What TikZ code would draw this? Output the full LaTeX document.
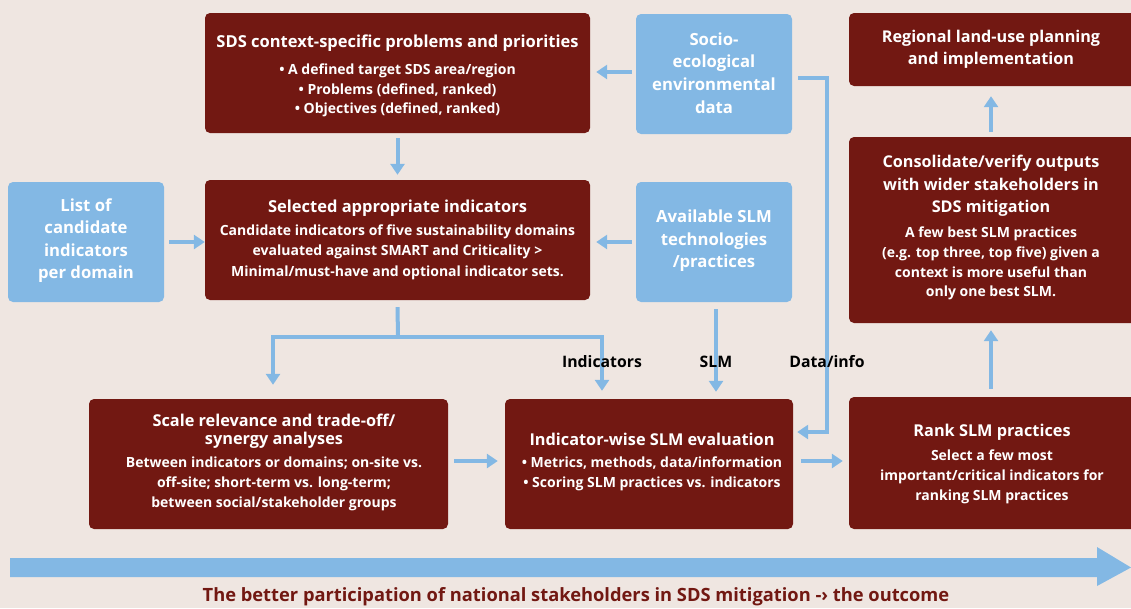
\documentclass[tikz,border=0pt]{standalone}
\usepackage{fontspec}
\setmainfont{Open Sans}
\usetikzlibrary{arrows.meta,calc}
\definecolor{bg}{HTML}{EFE6E1}
\definecolor{dred}{HTML}{721812}
\definecolor{lblue}{HTML}{83B8E4}
\newcommand{\fs}[2]{\bfseries\fontsize{#1}{#2}\selectfont}
\begin{document}
\begin{tikzpicture}[x=1pt,y=-1pt,
  redbox/.style={fill=dred, rounded corners=5pt, inner sep=0pt},
  bluebox/.style={fill=lblue, rounded corners=5pt, inner sep=0pt},
  wtxt/.style={text=white, align=center, inner sep=0pt},
  ktxt/.style={text=black, align=center, inner sep=0pt},
  arr/.style={draw=lblue, line width=4pt, -{Triangle[length=11pt,width=14pt]}},
  pipe/.style={draw=lblue, line width=4pt}]
% canvas
\fill[bg] (0,0) rectangle (1131,608);
\useasboundingbox (0,0) rectangle (1131,608);

% ---- boxes ----
\node[redbox, minimum width=385pt, minimum height=120pt] (sds) at (397.5,73) {};
\node[bluebox, minimum width=156pt, minimum height=120pt] (socio) at (714,74) {};
\node[redbox, minimum width=385pt, minimum height=120pt] (sel) at (397.5,240) {};
\node[bluebox, minimum width=156pt, minimum height=120pt] (avail) at (714,242) {};
\node[bluebox, minimum width=156pt, minimum height=120pt] (list) at (86,242) {};
\node[redbox, minimum width=359pt, minimum height=130pt] (scale) at (268.5,464) {};
\node[redbox, minimum width=288pt, minimum height=130pt] (eval) at (649,464) {};
\node[redbox, minimum width=292pt, minimum height=132pt] (rank) at (995,463) {};
\node[redbox, minimum width=292pt, minimum height=73pt] (reg) at (995,49.5) {};
\node[redbox, minimum width=292pt, minimum height=186pt] (cons) at (995,230) {};

% ---- texts ----
\node[wtxt, font=\fs{16.5}{19}] (sdsT) at (397.5,43) {SDS context-specific problems and priorities};
\node[wtxt, font=\fs{14}{19.5}] (sdsB) at (397.5,90.5) {• A defined target SDS area/region\\ • Problems (defined, ranked)\\ • Objectives (defined, ranked)};
\node[wtxt, font=\fs{16.7}{22.7}] (socioT) at (714,73) {Socio-\\ ecological\\ environmental\\ data};
\node[wtxt, font=\fs{16.5}{19}] (selT) at (397.5,208) {Selected appropriate indicators};
\node[wtxt, font=\fs{14}{20.5}] (selB) at (397.5,252) {Candidate indicators of five sustainability domains\\ evaluated against SMART and Criticality >\\ Minimal/must-have and optional indicator sets.};
\node[wtxt, font=\fs{16.7}{22.5}] (availT) at (714,241) {Available SLM\\ technologies\\ /practices};
\node[wtxt, font=\fs{16.7}{22.5}] (listT) at (86,240.5) {List of\\ candidate\\ indicators\\ per domain};
\node[wtxt, font=\fs{16.3}{18}] (scaleT) at (274,431) {Scale relevance and trade-off/\\ synergy analyses};
\node[wtxt, font=\fs{14}{20}] (scaleB) at (274,484) {Between indicators or domains; on-site vs.\\ off-site; short-term vs. long-term;\\ between social/stakeholder groups};
\node[wtxt, font=\fs{16.3}{19}] (evalT) at (652,439) {Indicator-wise SLM evaluation};
\node[wtxt, font=\fs{14}{20}] (evalB) at (652,474) {• Metrics, methods, data/information\\ • Scoring SLM practices vs. indicators};
\node[wtxt, font=\fs{16.3}{19}] (rankT) at (992,432) {Rank SLM practices};
\node[wtxt, font=\fs{14}{20}] (rankB) at (992,477) {Select a few most\\ important/critical indicators for\\ ranking SLM practices};
\node[wtxt, font=\fs{16.2}{22}] (regT) at (991,49) {Regional land-use planning\\ and implementation};
\node[wtxt, font=\fs{16.2}{22.5}] (consT) at (991,186) {Consolidate/verify outputs\\ with wider stakeholders in\\ SDS mitigation};
\node[wtxt, font=\fs{14}{19.7}] (consB) at (991,263.5) {A few best SLM practices\\ (e.g. top three, top five) given a\\ context is more useful than\\ only one best SLM.};

% ---- connectors ----
\draw[arr, shorten <=4pt, shorten >=6pt] ([yshift=2pt]socio.west) -- ([yshift=2pt]socio.west -| sds.east);
\draw[arr, shorten <=5pt, shorten >=5pt] (sds.south) -- (sel.north);
\draw[arr, shorten <=4pt, shorten >=6pt] (avail.west) -- (avail.west -| sel.east);
\draw[arr, shorten <=5pt, shorten >=0pt] (list.east) -- (list.east -| sel.west);

% split below the indicator box
\coordinate (split) at (398,337);
\draw[pipe] ([yshift=-7pt]sel.south) -- (split);
\draw[arr] ($(split)+(2,0)$) -| ([xshift=4.5pt,yshift=14pt]scale.north);
\draw[arr] ($(split)+(-2,0)$) -| ([xshift=-47pt,yshift=8pt]eval.north);
% SLM feed
\draw[arr, shorten <=7pt, shorten >=7pt] ([xshift=2pt]avail.south) -- ([xshift=2pt]avail.south |- eval.north);
% data/info feed
\coordinate (dbend) at (827,432);
\draw[arr] ([xshift=6pt,yshift=-4pt]socio.east) -| (dbend) -- ($(eval.east |- dbend)+(4,0)$);

\draw[arr, shorten <=6pt, shorten >=7pt] ([yshift=3pt]scale.east) -- ([yshift=3pt]scale.east -| eval.west);
\draw[arr, shorten <=8pt, shorten >=6pt] ([yshift=3pt]eval.east) -- ([yshift=3pt]eval.east -| rank.west);
\draw[arr, shorten <=8pt, shorten >=7pt] ([xshift=-4pt]rank.north) -- ([xshift=-4pt]cons.south);
\draw[arr, shorten <=5pt, shorten >=10pt] ([xshift=-4pt]cons.north) -- ([xshift=-4pt]reg.south);

% connector labels
\node[ktxt, font=\fs{15.8}{18}] (lInd) at (602,362) {Indicators};
\node[ktxt, font=\fs{15.8}{18}] (lSLM) at (716,362) {SLM};
\node[ktxt, font=\fs{15.8}{18}] (lDat) at (827,362) {Data/info};

% long progress arrow
\fill[lblue] (10,558) -- (1097,558) -- (1097,547) -- (1131,567.5) -- (1097,586) -- (1097,577) -- (10,577) -- cycle;
\node[text=dred, inner sep=0pt, font=\fs{18.3}{20}] (outcome) at (576,597) {The better participation of national stakeholders in SDS mitigation -› the outcome};
\end{tikzpicture}
\end{document}
